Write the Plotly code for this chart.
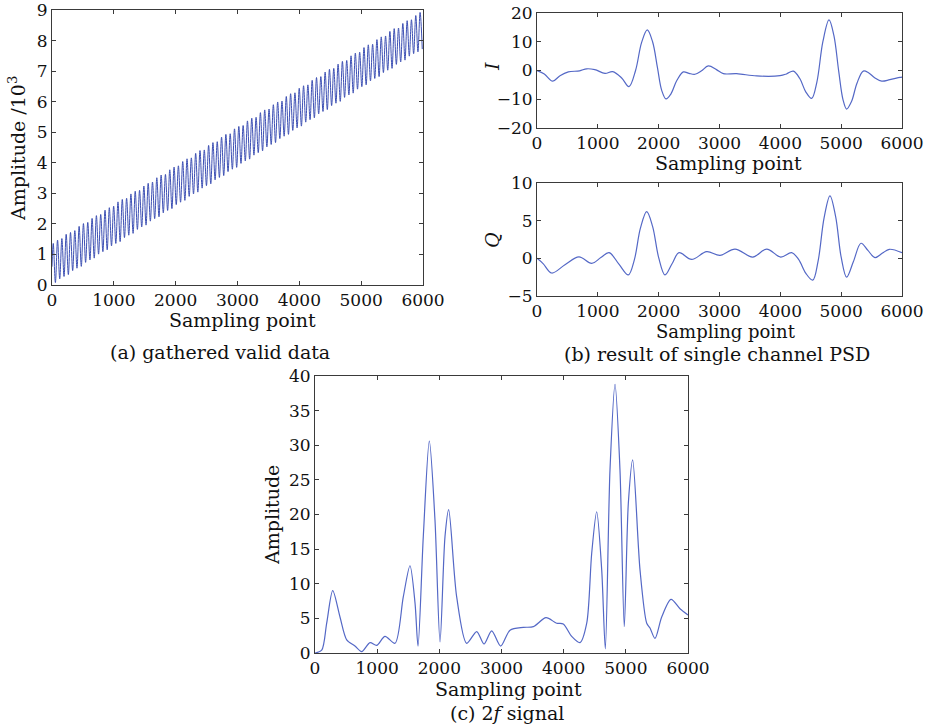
import numpy as np
import plotly.graph_objects as go

# ---------------- data ----------------
# (a) gathered valid data: successive maxima / minima of the raw signal (units of 10^3)
A_START = 0.6
A_PEAKS = [1.36, 1.47, 1.52, 1.66, 1.72, 1.78, 1.92, 2.01, 2.05, 2.18, 2.27, 2.31, 2.45, 2.53, 2.58,
           2.72, 2.80, 2.84, 2.98, 3.07, 3.10, 3.24, 3.33, 3.37, 3.51, 3.60, 3.62, 3.77, 3.86, 3.90,
           4.04, 4.13, 4.16, 4.31, 4.40, 4.42, 4.57, 4.66, 4.69, 4.84, 4.93, 4.95, 5.11, 5.19, 5.22,
           5.37, 5.46, 5.49, 5.64, 5.73, 5.76, 5.90, 5.99, 6.02, 6.17, 6.26, 6.29, 6.44, 6.52, 6.55,
           6.70, 6.79, 6.82, 6.97, 7.06, 7.09, 7.23, 7.32, 7.35, 7.50, 7.59, 7.62, 7.77, 7.86, 7.88,
           8.03, 8.12, 8.15, 8.30, 8.39, 8.41, 8.56, 8.65, 8.68, 8.82, 8.92]
A_TROUGHS = [0.08, 0.20, 0.28, 0.34, 0.47, 0.55, 0.61, 0.74, 0.82, 0.88, 1.01, 1.09, 1.15, 1.28, 1.36,
             1.42, 1.55, 1.63, 1.69, 1.82, 1.90, 1.96, 2.09, 2.17, 2.23, 2.36, 2.44, 2.50, 2.63, 2.71,
             2.77, 2.90, 2.98, 3.04, 3.17, 3.25, 3.31, 3.44, 3.52, 3.58, 3.71, 3.79, 3.85, 3.98, 4.06,
             4.12, 4.25, 4.33, 4.39, 4.52, 4.60, 4.66, 4.79, 4.87, 4.93, 5.06, 5.14, 5.20, 5.33, 5.41,
             5.47, 5.60, 5.68, 5.74, 5.87, 5.95, 6.01, 6.14, 6.22, 6.28, 6.41, 6.49, 6.55, 6.68, 6.76,
             6.82, 6.95, 7.03, 7.09, 7.22, 7.30, 7.36, 7.49, 7.57, 7.63, 7.72]
A_PERIOD = 69.8  # sampling points per oscillation cycle

# (b) single channel PSD, I component
I_X = [0, 120, 258, 378, 515, 700, 817, 950, 1118, 1244, 1392, 1512, 1620, 1720, 1813, 1900, 1980,
       2050, 2121, 2200, 2300, 2405, 2500, 2597, 2700, 2816, 2950, 3063, 3282, 3611, 3995, 4100,
       4214, 4320, 4420, 4515, 4600, 4700, 4800, 4880, 4960, 5030, 5090, 5170, 5260, 5364, 5450,
       5550, 5666, 5800, 5967, 6000]
I_Y = [0, -1.2, -3.7, -1.8, -0.5, -0.1, 0.6, 0.3, -1.0, -0.4, -2.6, -5.6, 0.0, 9.8, 14.1, 10.0, 1.0,
       -6.9, -9.9, -8.2, -3.4, -0.5, -1.0, -1.3, -0.2, 1.6, 0.3, -1.1, -1.1, -1.9, -1.8, -1.2,
       -0.2, -2.8, -7.5, -9.7, -4.1, 10.1, 17.6, 12.2, -0.3, -10.1, -13.4, -10.8, -4.4, -0.2, -0.8,
       -2.5, -3.7, -3.2, -2.4, -2.3]

# (b) single channel PSD, Q component
Q_X = [0, 100, 241, 460, 690, 899, 1050, 1184, 1350, 1501, 1600, 1700, 1803, 1900, 2000, 2104,
       2220, 2334, 2542, 2789, 3008, 3255, 3545, 3776, 4006, 4186, 4300, 4420, 4532, 4620, 4720,
       4816, 4910, 5000, 5090, 5200, 5326, 5440, 5556, 5680, 5791, 6000]
Q_Y = [0, -0.7, -1.95, -0.85, 0.2, -0.67, 0.1, 0.75, -0.81, -2.2, -0.2, 4.0, 6.2, 4.25, 0.1, -2.2,
       -0.72, 0.75, -0.15, 0.88, 0.4, 1.23, 0.17, 1.23, 0.17, 0.75, -0.14, -2.0, -2.9, -0.4, 5.4,
       8.3, 5.5, 0.15, -2.5, -0.46, 2.0, 1.05, 0.1, 0.7, 1.2, 0.75]

# (c) 2f signal amplitude
C_X = [0, 108, 188, 285, 402, 510, 643, 751, 885, 992, 1126, 1287, 1420, 1528, 1609, 1657, 1742,
       1839, 1930, 2011, 2091, 2150, 2279, 2440, 2601, 2719, 2842, 2987, 3137, 3351, 3512, 3716,
       3888, 3994, 4129, 4263, 4371, 4451, 4531, 4612, 4670, 4745, 4826, 4906, 4975, 5040, 5110,
       5228, 5336, 5389, 5469, 5577, 5727, 5871, 6000]
C_Y = [0, 0.4, 4.3, 9.0, 5.2, 1.9, 1.0, 0.2, 1.5, 1.1, 2.4, 1.4, 8.1, 12.6, 7.2, 1.0, 16.8,
       30.6, 19.2, 1.6, 16.8, 20.7, 8.1, 1.4, 3.1, 1.3, 3.2, 1.0, 3.3, 3.7, 3.8, 5.1,
       4.3, 4.2, 2.4, 1.5, 4.3, 14.4, 20.4, 12.0, 0.6, 26.4, 38.8, 26.4, 3.8, 21.6, 27.9,
       12.0, 4.3, 3.6, 2.1, 5.2, 7.75, 6.4, 5.5]

X_TICKS = [0, 1000, 2000, 3000, 4000, 5000, 6000]

# ---------------- build ----------------
W, H = 928, 726
FONT = "DejaVu Serif"
TXT = "#111111"
AX = "#3a3a3a"
C_A = "#3d50b4"
C_B = "#5468c6"

n = min(len(A_PEAKS), len(A_TROUGHS))
ax_x = [0.0]
ax_y = [A_START]
for k in range(n):
    ax_x += [20 + A_PERIOD * k, 55 + A_PERIOD * k]
    ax_y += [A_PEAKS[k], A_TROUGHS[k]]


def px(x):
    return x / W


def py(y):
    return 1 - y / H


fig = go.Figure()
fig.add_trace(go.Scatter(x=ax_x, y=ax_y, mode="lines", xaxis="x", yaxis="y",
                         line=dict(color=C_A, width=1, shape="spline", smoothing=1)))
fig.add_trace(go.Scatter(x=I_X, y=I_Y, mode="lines", xaxis="x2", yaxis="y2",
                         line=dict(color=C_B, width=1.2, shape="spline", smoothing=1)))
fig.add_trace(go.Scatter(x=Q_X, y=Q_Y, mode="lines", xaxis="x3", yaxis="y3",
                         line=dict(color=C_B, width=1.2, shape="spline", smoothing=1)))
fig.add_trace(go.Scatter(x=C_X, y=C_Y, mode="lines", xaxis="x4", yaxis="y4",
                         line=dict(color=C_B, width=1.2, shape="spline", smoothing=0.8)))


def axis(domain, rng, tickvals, anchor):
    return dict(domain=domain, range=rng, tickvals=tickvals, anchor=anchor,
                automargin=False, ticklabeloverflow="allow",
                showline=True, linecolor=AX, linewidth=1, mirror="ticks",
                ticks="inside", ticklen=4, tickcolor=AX, tickwidth=1,
                showgrid=False, zeroline=False,
                tickfont=dict(family=FONT, size=17, color=TXT))


boxes = {
    "a": (52, 423, 10, 285),
    "i": (537, 902, 13, 128),
    "q": (537, 902, 183, 296),
    "c": (315, 688, 376, 653),
}


def xd(b):
    return [px(b[0]), px(b[1])]


def yd(b):
    return [py(b[3]), py(b[2])]


fig.update_layout(
    width=W, height=H, autosize=False,
    margin=dict(l=0, r=0, t=0, b=0, pad=0, autoexpand=False),
    paper_bgcolor="white", plot_bgcolor="white",
    showlegend=False,
    xaxis=axis(xd(boxes["a"]), [0, 6000], X_TICKS, "y"),
    yaxis=axis(yd(boxes["a"]), [0, 9], list(range(0, 10)), "x"),
    xaxis2=axis(xd(boxes["i"]), [0, 6000], X_TICKS, "y2"),
    yaxis2=axis(yd(boxes["i"]), [-20, 20], [-20, -10, 0, 10, 20], "x2"),
    xaxis3=axis(xd(boxes["q"]), [0, 6000], X_TICKS, "y3"),
    yaxis3=axis(yd(boxes["q"]), [-5, 10], [-5, 0, 5, 10], "x3"),
    xaxis4=axis(xd(boxes["c"]), [0, 6000], X_TICKS, "y4"),
    yaxis4=axis(yd(boxes["c"]), [0, 40], list(range(0, 45, 5)), "x4"),
)

ann = []


def label(text, x, y, rot=0, size=19):
    ann.append(dict(text=text, x=px(x), y=py(y), xref="paper", yref="paper",
                    showarrow=False, textangle=rot, xanchor="center", yanchor="middle",
                    font=dict(family=FONT, size=size, color=TXT)))


label("Sampling point", 243, 320)
label("Amplitude /10<sup>3</sup>", 17, 149, rot=-90)
label("(a) gathered valid data", 220, 352)
label("Sampling point", 728, 163)
label("<i>I</i>", 492, 67, rot=-90)
label("Sampling point", 726, 331, size=18)
label("<i>Q</i>", 492, 240, rot=-90)
label("(b) result of single channel PSD", 717, 354)
label("Amplitude", 272, 515, rot=-90)
label("Sampling point", 508, 689)
label("(c) 2<i>f</i> signal", 507, 713)

fig.update_layout(annotations=ann)
fig.write_html("out.html", config={"displayModeBar": False},
               post_script="document.body.style.margin='0';document.body.style.overflow='hidden';")
